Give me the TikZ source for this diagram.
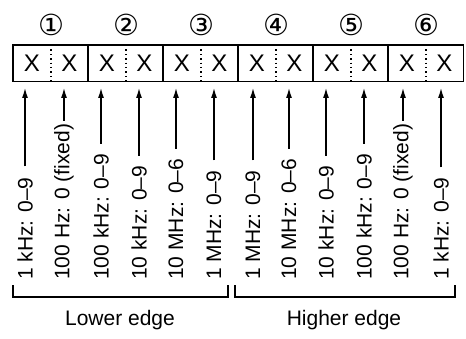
\documentclass[tikz,border=0pt]{standalone}
\usepackage{fontspec}
\setmainfont{Liberation Sans}
\newfontfamily\symfont{DejaVu Sans}
\usetikzlibrary{arrows.meta}
\begin{document}
\begin{tikzpicture}[x=1pt,y=-1pt,
  cell/.style={minimum width=37.5pt,minimum height=36pt,inner sep=0pt,anchor=north west,font=\fontsize{24}{28}\selectfont},
  num/.style={font=\symfont\fontsize{29}{32}\selectfont,inner sep=0pt},
  lbl/.style={rotate=90,anchor=west,inner sep=0pt,font=\fontsize{21}{25}\selectfont},
  edge/.style={font=\fontsize{21}{25}\selectfont,inner sep=0pt},
  box/.style={line width=1.4pt},
  divider/.style={line width=1.4pt,dash pattern=on 1.4pt off 3pt},
  arr/.style={line width=1.2pt,-{Latex[length=10pt,width=6pt]}},
  brk/.style={line width=1.2pt}
]
\useasboundingbox (0,0) rectangle (466,339);
% cells
\foreach \g in {0,...,5}{
  \node[cell] (c\g a) at (13+75*\g,45) {X};
  \node[cell] (c\g b) at (13+75*\g+37.5,45) {X};
  \draw[box] (c\g a.north west) rectangle (c\g b.south east);
  \draw[divider] (c\g a.north east) -- (c\g a.south east);
}
\node[num] (n1) at ([xshift=1pt,yshift=20pt]c0a.north east) {①};
\node[num] (n2) at ([xshift=1pt,yshift=20pt]c1a.north east) {②};
\node[num] (n3) at ([xshift=1pt,yshift=20pt]c2a.north east) {③};
\node[num] (n4) at ([xshift=1pt,yshift=20pt]c3a.north east) {④};
\node[num] (n5) at ([xshift=1pt,yshift=20pt]c4a.north east) {⑤};
\node[num] (n6) at ([xshift=1pt,yshift=20pt]c5a.north east) {⑥};
% labels and arrows
\foreach \x/\t/\s [count=\i] in {
  25/{1 kHz: 0–9}/11,
  64/{100 Hz: 0 (fixed)}/3,
  101/{100 kHz: 0–9}/10,
  139/{10 kHz: 0–9}/10,
  176/{10 MHz: 0–6}/10,
  214/{1 MHz: 0–9}/10,
  253/{1 MHz: 0–9}/10,
  289/{10 MHz: 0–6}/10,
  326/{10 kHz: 0–9}/10,
  364/{100 kHz: 0–9}/10,
  403/{100 Hz: 0 (fixed)}/3,
  441/{1 kHz: 0–9}/10}{
  \node[lbl] (t\i) at (\x,280) {\t};
  \coordinate (a\i) at (\x,88);
  \draw[arr,shorten <=\s pt] (t\i.east) -- (a\i);
}
% brackets
\coordinate (l1) at (13,285);
\coordinate (l2) at (228,285);
\coordinate (h1) at (235,285);
\coordinate (h2) at (455,285);
\draw[brk] (l1) -- ++(0,12) -| (l2);
\draw[brk] (h1) -- ++(0,12) -| (h2);
\node[edge] (le) at (120,320) {Lower edge};
\node[edge] (he) at (344,320) {Higher edge};
\end{tikzpicture}
\end{document}
